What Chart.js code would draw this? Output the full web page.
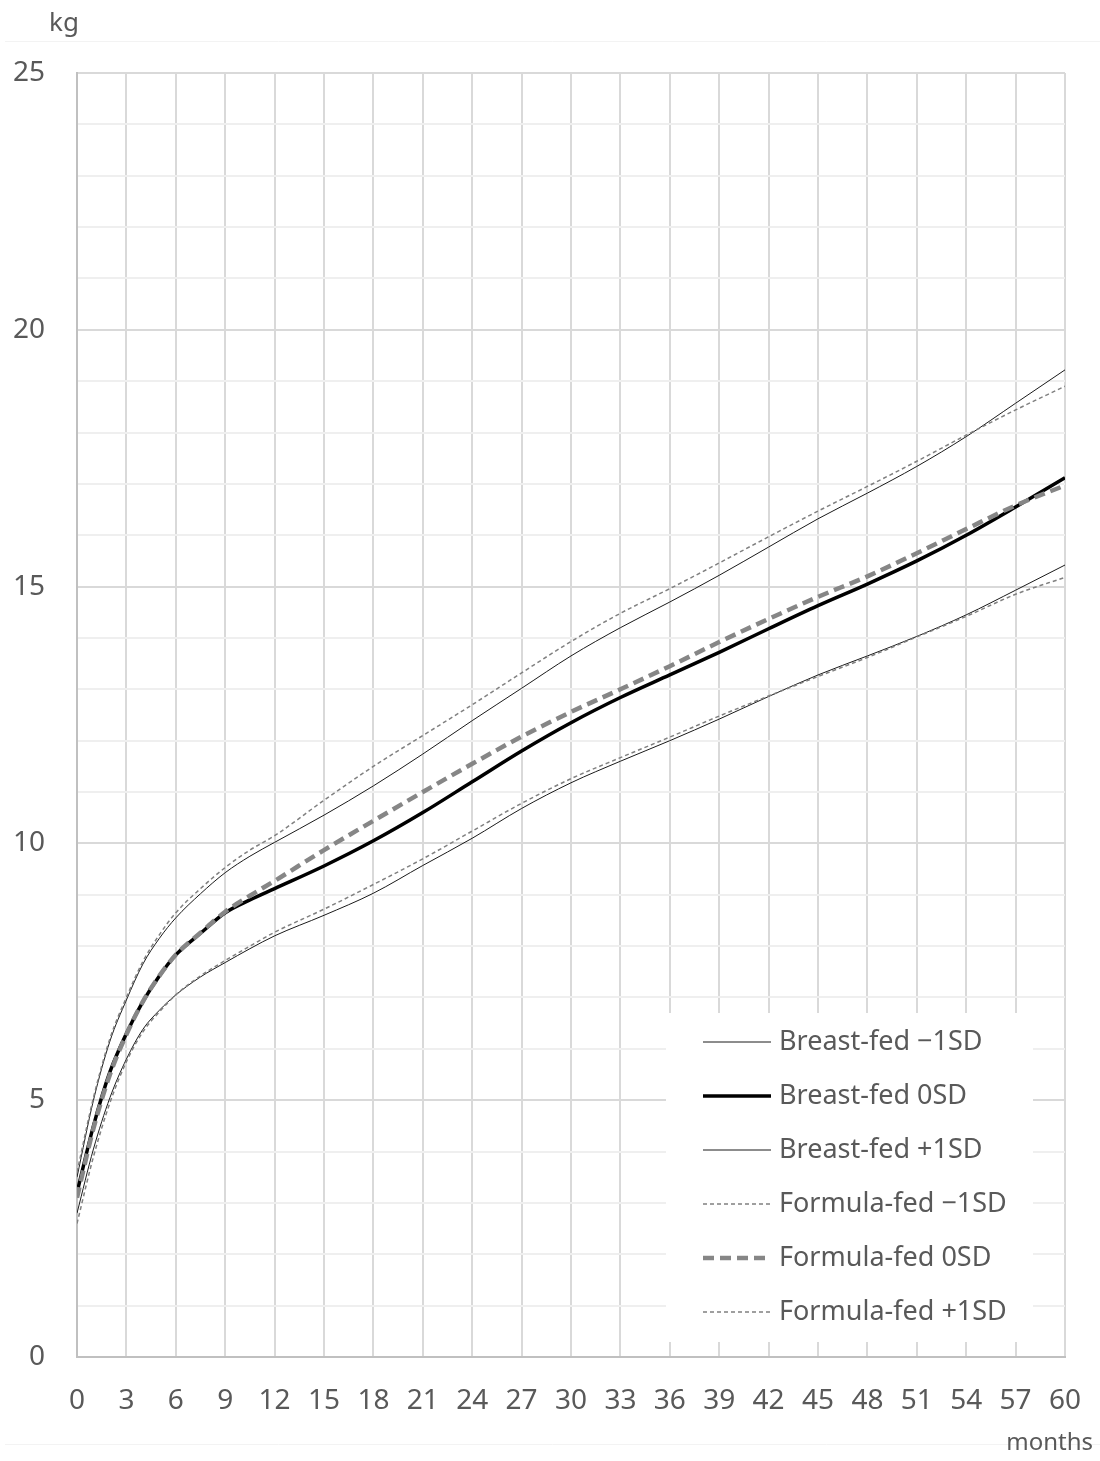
<!DOCTYPE html>
<html>
<head>
<meta charset="utf-8">
<script src="https://cdn.jsdelivr.net/npm/chart.js@4/dist/chart.umd.min.js"></script>
<style>
  html, body { margin: 0; padding: 0; background: #fff; }
  #c { display: block; }
</style>
</head>
<body>
<canvas id="c" width="1100" height="1461"></canvas>
<script>
// months (x) and weights (kg)
const months = [0, 1, 2, 3, 4, 5, 6, 7.5, 9, 10.5, 12, 15, 18, 21, 24, 27, 30, 33, 36, 39, 42, 45, 48, 51, 54, 57, 60];

const breastMinus1 = [2.8, 4.05, 5.05, 5.8, 6.38, 6.75, 7.05, 7.4, 7.68, 7.95, 8.2, 8.6, 9.03, 9.57, 10.1, 10.68, 11.18, 11.6, 12.0, 12.42, 12.86, 13.28, 13.65, 14.03, 14.45, 14.93, 15.42];
const breast0 = [3.2, 4.5, 5.55, 6.3, 6.92, 7.42, 7.83, 8.25, 8.65, 8.9, 9.12, 9.56, 10.05, 10.6, 11.2, 11.8, 12.35, 12.84, 13.28, 13.72, 14.18, 14.63, 15.05, 15.5, 16.0, 16.55, 17.12];
const breastPlus1 = [3.5, 5.0, 6.15, 6.95, 7.65, 8.15, 8.55, 9.02, 9.43, 9.75, 10.02, 10.55, 11.12, 11.74, 12.39, 13.02, 13.65, 14.2, 14.7, 15.22, 15.77, 16.32, 16.82, 17.34, 17.92, 18.57, 19.22];
const formulaMinus1 = [2.6, 3.9, 4.95, 5.75, 6.33, 6.72, 7.05, 7.42, 7.72, 8.0, 8.27, 8.72, 9.2, 9.7, 10.24, 10.78, 11.26, 11.67, 12.07, 12.48, 12.87, 13.25, 13.62, 14.02, 14.42, 14.85, 15.18];
const formula0 = [3.1, 4.45, 5.5, 6.28, 6.92, 7.42, 7.83, 8.26, 8.67, 8.98, 9.27, 9.87, 10.44, 11.0, 11.55, 12.08, 12.56, 13.0, 13.45, 13.92, 14.37, 14.8, 15.2, 15.65, 16.12, 16.58, 16.97];
const formulaPlus1 = [3.6, 5.05, 6.2, 7.0, 7.7, 8.22, 8.65, 9.12, 9.53, 9.87, 10.15, 10.84, 11.5, 12.1, 12.7, 13.32, 13.93, 14.48, 14.96, 15.46, 15.97, 16.47, 16.95, 17.44, 17.95, 18.44, 18.9];

const seriesLabels = ["Breast-fed \u22121SD", "Breast-fed 0SD", "Breast-fed +1SD", "Formula-fed \u22121SD", "Formula-fed 0SD", "Formula-fed +1SD"];

const TEXT = "#595959";
const FONT = "'Noto Sans', 'DejaVu Sans', sans-serif";

const pts = (arr) => arr.map((v, i) => ({ x: months[i], y: v }));

const styles = [
  { color: "#1a1a1a", width: 1, dash: [] },
  { color: "#000000", width: 3.5, dash: [] },
  { color: "#1a1a1a", width: 1, dash: [] },
  { color: "#808080", width: 1.5, dash: [4, 3] },
  { color: "#868686", width: 4.5, dash: [11, 6] },
  { color: "#808080", width: 1.5, dash: [4, 3] },
];
const seriesData = [breastMinus1, breast0, breastPlus1, formulaMinus1, formula0, formulaPlus1];

const datasets = seriesData.map((d, i) => ({
  label: seriesLabels[i],
  data: pts(d),
  borderColor: styles[i].color,
  borderWidth: styles[i].width,
  borderDash: styles[i].dash,
  pointRadius: 0,
  fill: false,
  cubicInterpolationMode: "monotone",
  order: i >= 3 ? 0 : 1,
}));

// legend box + axis unit labels
const extras = {
  id: "extras",
  afterDatasetsDraw(chart) {
    const ctx = chart.ctx;
    ctx.save();
    // faint frame lines
    ctx.strokeStyle = "#f3f3f3";
    ctx.lineWidth = 1;
    ctx.beginPath();
    ctx.moveTo(5, 41.5); ctx.lineTo(1100, 41.5);
    ctx.moveTo(5, 1444.5); ctx.lineTo(1100, 1444.5);
    ctx.stroke();

    // legend
    ctx.fillStyle = "#ffffff";
    ctx.fillRect(666, 1013, 367, 329);
    const y0 = 1042, step = 54;
    seriesLabels.forEach((lab, i) => {
      const y = y0 + i * step;
      const s = styles[i];
      ctx.beginPath();
      ctx.strokeStyle = s.color;
      ctx.lineWidth = s.width;
      ctx.setLineDash(s.dash);
      ctx.moveTo(703, y);
      ctx.lineTo(771, y);
      ctx.stroke();
      ctx.setLineDash([]);
      ctx.fillStyle = TEXT;
      ctx.font = "27px " + FONT;
      ctx.textAlign = "left";
      ctx.textBaseline = "middle";
      ctx.fillText(lab, 779, y);
    });

    ctx.fillStyle = TEXT;
    ctx.textBaseline = "middle";
    ctx.textAlign = "left";
    ctx.font = "26px " + FONT;
    ctx.fillText("kg", 49, 24);
    ctx.textAlign = "right";
    ctx.font = "24px " + FONT;
    ctx.fillText("months", 1093, 1443);
    ctx.restore();
  },
};

new Chart(document.getElementById("c"), {
  type: "line",
  data: { datasets },
  plugins: [extras],
  options: {
    responsive: false,
    animation: false,
    layout: { padding: { top: 73, right: 35, bottom: 0, left: 0 } },
    plugins: { legend: { display: false }, tooltip: { enabled: false } },
    scales: {
      x: {
        type: "linear",
        min: 0,
        max: 60,
        afterFit: (s) => { s.height = 104; s.paddingLeft = 0; s.paddingRight = 0; },
        grid: { color: "#d9d9d9", lineWidth: 2, drawTicks: false },
        border: { color: "#c0c0c0", width: 2 },
        ticks: {
          stepSize: 3,
          padding: 27,
          color: TEXT,
          font: { family: FONT, size: 28 },
          maxRotation: 0,
        },
      },
      y: {
        min: 0,
        max: 25,
        afterFit: (s) => { s.width = 77; s.paddingTop = 0; s.paddingBottom = 0; },
        grid: {
          color: (c) => (c.tick && c.tick.value % 5 === 0 ? "#d9d9d9" : "#efefef"),
          lineWidth: 2,
          drawTicks: false,
        },
        border: { color: "#c0c0c0", width: 2 },
        ticks: {
          stepSize: 1,
          padding: 32,
          color: TEXT,
          font: { family: FONT, size: 28 },
          callback: (v) => (v % 5 === 0 ? String(v) : ""),
        },
      },
    },
  },
});
</script>
</body>
</html>
